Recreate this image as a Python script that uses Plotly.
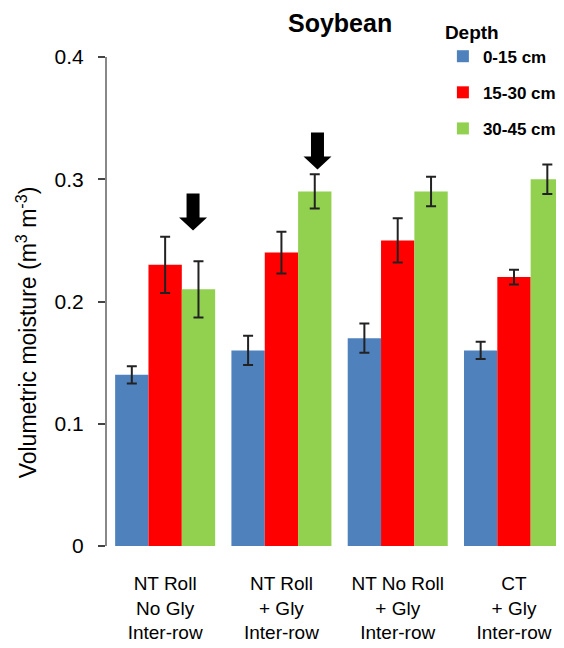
import plotly.graph_objects as go

categories = ["NT Roll<br>No Gly<br>Inter-row", "NT Roll<br>+ Gly<br>Inter-row",
              "NT No Roll<br>+ Gly<br>Inter-row", "CT<br>+ Gly<br>Inter-row"]
depths = ["0-15 cm", "15-30 cm", "30-45 cm"]
v_0_15 = [0.14, 0.16, 0.17, 0.16]
v_15_30 = [0.23, 0.24, 0.25, 0.22]
v_30_45 = [0.21, 0.29, 0.29, 0.30]
e_0_15 = [0.007, 0.012, 0.012, 0.007]
e_15_30 = [0.023, 0.017, 0.018, 0.006]
e_30_45 = [0.023, 0.014, 0.012, 0.012]
y_ticks = [0, 0.1, 0.2, 0.3, 0.4]
y_ticktext = ["0", "0.1", "0.2", "0.3", "0.4"]
arrow_groups = [0, 1]          # groups whose 30-45 cm bar carries an arrow
arrow_tips = [0.258, 0.308]     # y value where each arrow tip points

colors = ["#4F81BD", "#FF0000", "#92D050"]
values = [v_0_15, v_15_30, v_30_45]
errors = [e_0_15, e_15_30, e_30_45]

FONT = "Liberation Sans, Arial, sans-serif"
xpos = list(range(len(categories)))

# page body adds an 8px offset; figure sized to fill the remaining viewport
W, H = 556, 640

fig = go.Figure()
for name, vals, errs, col in zip(depths, values, errors, colors):
    fig.add_trace(go.Bar(
        x=xpos, y=vals, name=name, legendgroup=name,
        marker=dict(color=col, line=dict(width=0)),
        error_y=dict(type="data", array=errs, visible=True,
                     color="#222222", thickness=2, width=5),
    ))

# Block arrows drawn as pixel-sized shapes anchored to data positions
arrow_path = "M0,0 L-14,13 L-6.5,13 L-6.5,37 L6.5,37 L6.5,13 L14,13 Z"
arrow_dx = [0.24, 0.31]
for g, tip, dx in zip(arrow_groups, arrow_tips, arrow_dx):
    fig.add_shape(type="path", xref="x", yref="y",
                  xsizemode="pixel", ysizemode="pixel",
                  xanchor=g + dx, yanchor=tip, path=arrow_path,
                  fillcolor="black", line=dict(width=0))

fig.add_annotation(
    text="Volumetric moisture (m<sup>3</sup> m<sup>-3</sup>)",
    xref="paper", yref="paper", x=-0.176, y=0.436, textangle=-90,
    showarrow=False, font=dict(family=FONT, size=23, color="black"),
    xanchor="center", yanchor="middle")

fig.update_layout(
    width=W, height=H,
    margin=dict(l=99, r=0, t=49, b=102, autoexpand=False),
    paper_bgcolor="white", plot_bgcolor="white",
    barmode="group", bargap=0.14, bargroupgap=0,
    font=dict(family=FONT, color="black"),
    title=dict(text="<b>Soybean</b>", x=0.51, xref="paper", xanchor="center",
               y=1 - 15 / H, yanchor="middle", yref="container",
               font=dict(family=FONT, size=25, color="black")),
    legend=dict(title=dict(text="<b>Depth</b>", font=dict(size=19, family=FONT)),
                x=0.735, y=1.088, xanchor="left", yanchor="top",
                bgcolor="rgba(0,0,0,0)", traceorder="grouped",
                tracegroupgap=11, itemwidth=30,
                font=dict(family=FONT, size=17, color="black", weight="bold")),
    xaxis=dict(tickmode="array", tickvals=xpos, ticktext=categories,
               range=[-0.5, 3.43], showline=False, showgrid=False,
               ticks="", tickfont=dict(family=FONT, size=19, color="black"),
               ticklabelstandoff=24, zeroline=False),
    yaxis=dict(range=[0, 0.4], tickmode="array", tickvals=y_ticks,
               ticktext=y_ticktext, showline=True, linecolor="#888888",
               linewidth=2, ticks="outside", ticklen=7, tickcolor="#444444",
               tickwidth=2, showgrid=False, zeroline=False,
               tickfont=dict(family=FONT, size=21, color="black"),
               ticklabelstandoff=10),
)

fig.write_html("out.html")
